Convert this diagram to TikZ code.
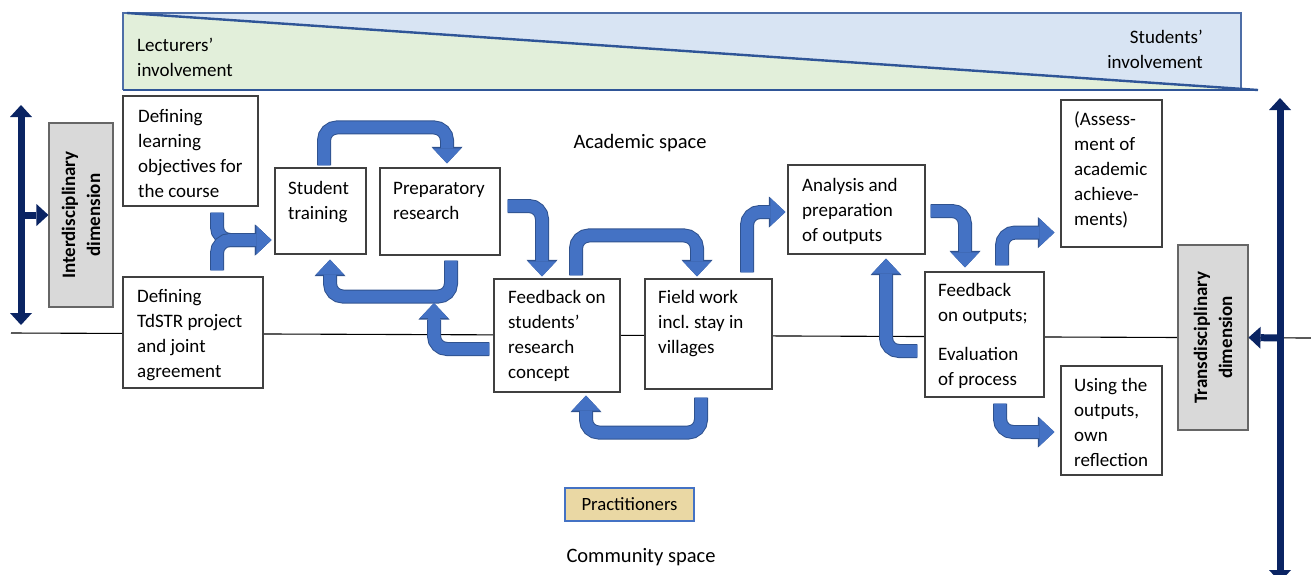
\documentclass[tikz,border=0pt]{standalone}
\usepackage{fontspec}
\setmainfont{Carlito}
\usetikzlibrary{arrows.meta,calc}
\frenchspacing

\definecolor{barrow}{HTML}{4472C4}
\definecolor{barrowedge}{HTML}{2F528F}
\definecolor{navy}{HTML}{0A2463}
\definecolor{boxline}{HTML}{404040}
\definecolor{graybox}{HTML}{D9D9D9}
\definecolor{skyfill}{HTML}{D8E4F3}
\definecolor{leaf}{HTML}{E2EFDA}
\definecolor{bannerline}{HTML}{2F5597}
\definecolor{papyrus}{HTML}{EAD8A4}

\tikzset{
  stagebox/.style={draw=boxline, fill=white, line width=1.1pt, inner sep=0pt},
  dimbox/.style={draw=boxline!80, fill=graybox, line width=1.1pt, inner sep=0pt},
  % multi-line labels are anchored at the baseline of their last line
  lbl/.style={font=\fontsize{19}{25}\selectfont, align=left, inner sep=0pt, anchor=base west},
  spacelbl/.style={font=\fontsize{20.5}{25}\selectfont, inner sep=0pt, anchor=base},
  dimlbl/.style={font=\fontsize{19}{25}\selectfont\bfseries, align=center, inner sep=0pt, rotate=90},
  blk/.style={draw=barrow, line width=12pt, rounded corners=13pt,
    -{Triangle[width=28pt,length=15pt,line width=0pt]},
    preaction={draw=barrowedge, line width=14pt,
      -{Triangle[width=31pt,length=16.5pt,line width=0pt]}}},
  navyarr/.style={draw=navy, line width=7pt},
  navytip/.tip={Triangle[width=22pt,length=12pt,line width=0pt]},
}

\begin{document}
\begin{tikzpicture}[x=1pt,y=-1pt]
\useasboundingbox (0,0) rectangle (1311,574);

% involvement banner
\fill[skyfill] (123,13) rectangle (1241,90);
\fill[leaf] (123,13) -- (1258,90) -- (123,90) -- cycle;
\draw[bannerline!85, line width=1.3pt] (123,90) -- (123,13) -- (1241,13) -- (1241,90);
\draw[bannerline, line width=1.3pt] (123,90) -- (1258,90);
\draw[bannerline, line width=2.4pt] (127,13) -- (1258,90);
\node[lbl] (lect) at (137,76) {Lecturers'\\involvement};
\node[lbl, anchor=base east, align=right] (stud) at (1203,68) {Students'\\involvement};

% border between academic and community space
\coordinate (divl) at (11,333);
\coordinate (divr) at (1311,338);
\draw[black, line width=1.1pt] (divl) -- (divr);

\node[spacelbl] (acad) at (640,148) {Academic space};
\node[spacelbl] (comm) at (641,562) {Community space};

% stage boxes
\node[stagebox, minimum width=135pt, minimum height=110pt] (b1) at (190.5,151) {};
\node[stagebox, minimum width=140pt, minimum height=111pt] (b2) at (193,332.5) {};
\node[stagebox, minimum width=91pt,  minimum height=86pt]  (st) at (320.5,211) {};
\node[stagebox, minimum width=120pt, minimum height=87pt]  (pr) at (440,211.5) {};
\node[stagebox, minimum width=126pt, minimum height=113pt] (fc) at (557,335.5) {};
\node[stagebox, minimum width=127pt, minimum height=110pt] (fw) at (708.5,334) {};
\node[stagebox, minimum width=137pt, minimum height=89pt]  (an) at (856.5,209.5) {};
\node[stagebox, minimum width=119pt, minimum height=125pt] (fo) at (984.5,334.5) {};
\node[stagebox, minimum width=101pt, minimum height=147pt] (as) at (1111.5,173.5) {};
\node[stagebox, minimum width=101pt, minimum height=109pt] (us) at (1111.5,420.5) {};

\node[lbl] (b1t) at (138,197) {Defining\\learning\\objectives for\\the course};
\node[lbl] (b2t) at (137,377) {Defining\\TdSTR project\\and joint\\agreement};
\node[lbl] (stt) at (288,219) {Student\\training};
\node[lbl] (prt) at (393,219) {Preparatory\\research};
\node[lbl] (fct) at (508,378) {Feedback on\\students'\\research\\concept};
\node[lbl] (fwt) at (658,353) {Field work\\incl. stay in\\villages};
\node[lbl] (ant) at (802,241) {Analysis and\\preparation\\of outputs};
\node[lbl] (fot) at (938,385) {Feedback\\on outputs;\\[14pt]Evaluation\\of process};
\node[lbl] (ast) at (1074,225) {(Assess-\\ment of\\academic\\achieve-\\ments)};
\node[lbl] (ust) at (1074,466) {Using the\\outputs,\\own\\reflection};

% dimension boxes
\node[dimbox, minimum width=64pt, minimum height=184pt] (idb) at (81,215) {};
\node[dimlbl] (idt) at (idb.center) {Interdisciplinary\\dimension};
\node[dimbox, minimum width=70pt, minimum height=185pt] (tdb) at (1213,337.5) {};
\node[dimlbl] (tdt) at (tdb.center) {Transdisciplinary\\dimension};

% practitioners
\node[draw=barrow, fill=papyrus, line width=1.2pt, minimum width=129pt, minimum height=33pt,
      inner sep=0pt, font=\fontsize{18.7}{25}\selectfont] (prac) at (629.5,504.5) {Practitioners};

% process arrows
\coordinate (loopb) at (434,303);
\draw[blk] ($(b1.south)+(26.5,6)$) |- ($(st.west)+(-3,29)$);
\draw[blk] ($(b2.north)+(24,-6)$) |- ($(st.west)+(-3,29)$);
\draw[blk] ($(st.north)+(3.5,-2)$) -- ++(0,-38) -| ($(pr.north)+(7,-4)$);
\draw[blk] ($(pr.south)+(11,5)$) -- ++(0,36) -| ($(st.south)+(9.5,5)$);
\draw[blk] ($(fc.west)+(-4,13.5)$) -| (loopb);
\draw[blk] ($(pr.east)+(7,-5.5)$) -| ($(fc.north)+(-15,-2)$);
\draw[blk] ($(fc.north)+(19,-3)$) -- ++(0,-40) -| ($(fw.north)+(-11.5,-2)$);
\draw[blk] ($(fw.south)+(-7.5,8)$) -- ++(0,35) -| ($(fc.south)+(29,3)$);
\draw[blk] ($(fw.north)+(38.5,-6)$) |- ($(an.west)+(-2,2.5)$);
\draw[blk] ($(an.east)+(5,1.5)$) -| ($(fo.north)+(-19.5,-4)$);
\draw[blk] ($(fo.west)+(-7,16.5)$) -| ($(an.south)+(29.5,4)$);
\draw[blk] ($(fo.north)+(17.5,-6)$) |- ($(as.south west)+(-6,-15)$);
\draw[blk] ($(fo.south)+(15.5,6)$) |- ($(us.west)+(-6,11.5)$);

% dimension axes
\coordinate (ltop) at (21,105);
\coordinate (lbot) at (21,325);
\coordinate (lmid) at (21,215);
\draw[navyarr, navytip-navytip] (ltop) -- (lbot);
\draw[navyarr, -navytip] (lmid) -- (idb.west);
\coordinate (rtop) at (1280,98);
\coordinate (rbot) at (1280,582);
\coordinate (rmid) at (1280,338);
\draw[navyarr, navytip-navytip] (rtop) -- (rbot);
\draw[navyarr, -navytip] (rmid) -- (tdb.east);
\end{tikzpicture}
\end{document}
